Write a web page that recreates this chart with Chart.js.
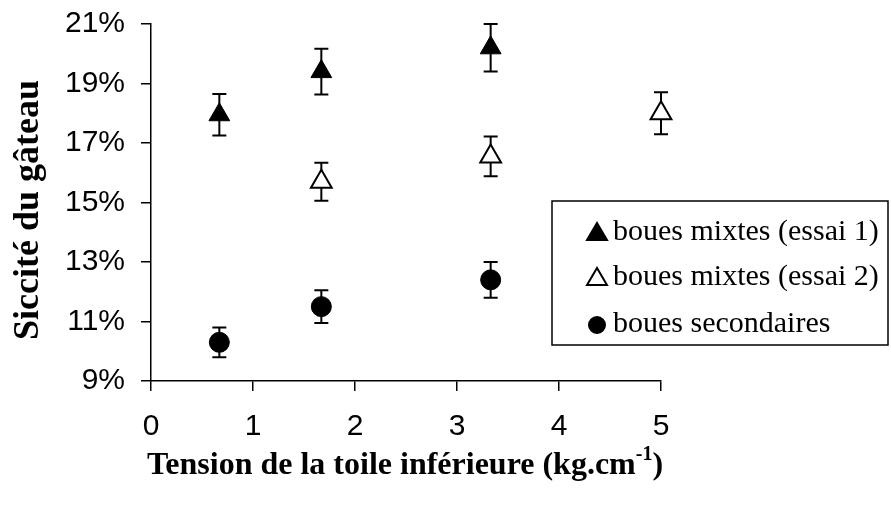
<!DOCTYPE html>
<html>
<head>
<meta charset="utf-8">
<script src="https://cdn.jsdelivr.net/npm/chart.js@4"></script>
<style>
  body { margin: 0; background: #fff; }
</style>
</head>
<body>
<canvas id="siccite" width="891" height="527"></canvas>
<script>
// tension (kg/cm) and cake dryness (%) with error bars
const tensionMixtes1 = [0.67, 1.67, 3.33];
const sicciteMixtes1 = [17.95, 19.4, 20.2];
const erreurMixtes1 = [0.7, 0.77, 0.8];

const tensionMixtes2 = [1.67, 3.33, 5.0];
const sicciteMixtes2 = [15.7, 16.55, 18.0];
const erreurMixtes2 = [0.64, 0.67, 0.71];

const tensionSecondaires = [0.67, 1.67, 3.33];
const sicciteSecondaires = [10.3, 11.5, 12.4];
const erreurSecondaires = [0.5, 0.55, 0.6];

const seriesLabels = ["boues mixtes (essai 1)", "boues mixtes (essai 2)", "boues secondaires"];
const yTicks = [9, 11, 13, 15, 17, 19, 21];
const xTicks = [0, 1, 2, 3, 4, 5];

const serif = "'Liberation Serif', 'Times New Roman', serif";
const sans = "'Liberation Sans', Arial, sans-serif";

function points(xs, ys, errs) {
  return xs.map((x, i) => ({ x: x, y: ys[i], err: errs[i] }));
}

// vertical error bars with caps, drawn under the markers
const errorBars = {
  id: "errorBars",
  beforeDatasetsDraw(chart) {
    const ctx = chart.ctx;
    const xs = chart.scales.x, ys = chart.scales.y;
    ctx.save();
    ctx.strokeStyle = "#000";
    ctx.lineWidth = 2;
    chart.data.datasets.forEach((ds) => {
      ds.data.forEach((p) => {
        const px = xs.getPixelForValue(p.x);
        const top = ys.getPixelForValue(p.y + p.err);
        const bot = ys.getPixelForValue(p.y - p.err);
        ctx.beginPath();
        ctx.moveTo(px, top); ctx.lineTo(px, bot);
        ctx.moveTo(px - 7, top); ctx.lineTo(px + 7, top);
        ctx.moveTo(px - 7, bot); ctx.lineTo(px + 7, bot);
        ctx.stroke();
      });
    });
    ctx.restore();
  }
};

// axis titles and boxed legend
const decorations = {
  id: "decorations",
  afterDraw(chart) {
    const ctx = chart.ctx;
    ctx.save();
    ctx.fillStyle = "#000";

    // x title with superscript
    const main = "Tension de la toile inférieure (kg.cm";
    ctx.font = "bold 32px " + serif;
    const w1 = ctx.measureText(main).width;
    const w3 = ctx.measureText(")").width;
    ctx.font = "bold 20px " + serif;
    const w2 = ctx.measureText("-1").width;
    let x = 405 - (w1 + w2 + w3) / 2;
    const base = 474;
    ctx.textBaseline = "alphabetic";
    ctx.textAlign = "left";
    ctx.font = "bold 32px " + serif;
    ctx.fillText(main, x, base);
    x += w1;
    ctx.font = "bold 20px " + serif;
    ctx.fillText("-1", x, base - 14);
    x += w2;
    ctx.font = "bold 32px " + serif;
    ctx.fillText(")", x, base);

    // y title
    ctx.translate(29, 210);
    ctx.rotate(-Math.PI / 2);
    ctx.textAlign = "center";
    ctx.textBaseline = "middle";
    ctx.font = "bold 36px " + serif;
    ctx.fillText("Siccité du gâteau", 0, 0);
    ctx.setTransform(1, 0, 0, 1, 0, 0);

    // legend box
    ctx.fillStyle = "#fff";
    ctx.fillRect(552, 201, 336, 144);
    ctx.strokeStyle = "#000";
    ctx.lineWidth = 1.5;
    ctx.strokeRect(552, 201, 336, 144);

    const rows = [232, 277, 324];
    chart.data.datasets.forEach((ds, i) => {
      const cy = rows[i];
      ctx.lineWidth = 2;
      ctx.strokeStyle = "#000";
      ctx.fillStyle = ds.backgroundColor;
      ctx.beginPath();
      if (ds.pointStyle === "triangle") {
        ctx.moveTo(597, cy - 9);
        ctx.lineTo(607, cy + 8);
        ctx.lineTo(587, cy + 8);
        ctx.closePath();
      } else {
        ctx.arc(597, cy + 1, 8, 0, Math.PI * 2);
      }
      ctx.fill();
      ctx.stroke();
      ctx.fillStyle = "#000";
      ctx.font = "30px " + serif;
      ctx.textAlign = "left";
      ctx.textBaseline = "middle";
      ctx.fillText(ds.label, 613, cy);
    });
    ctx.restore();
  }
};

new Chart(document.getElementById("siccite"), {
  type: "scatter",
  data: {
    datasets: [
      {
        label: seriesLabels[0],
        data: points(tensionMixtes1, sicciteMixtes1, erreurMixtes1),
        pointStyle: "triangle",
        radius: 12,
        backgroundColor: "#000",
        borderColor: "#000",
        borderWidth: 1,
        clip: false,
      },
      {
        label: seriesLabels[1],
        data: points(tensionMixtes2, sicciteMixtes2, erreurMixtes2),
        pointStyle: "triangle",
        radius: 12,
        backgroundColor: "#fff",
        borderColor: "#000",
        borderWidth: 2,
        clip: false,
      },
      {
        label: seriesLabels[2],
        data: points(tensionSecondaires, sicciteSecondaires, erreurSecondaires),
        pointStyle: "circle",
        radius: 10,
        backgroundColor: "#000",
        borderColor: "#000",
        borderWidth: 1,
        clip: false,
      },
    ],
  },
  options: {
    responsive: false,
    animation: false,
    layout: { padding: { top: 24, right: 230, left: 0, bottom: 0 } },
    plugins: {
      legend: { display: false },
      tooltip: { enabled: false },
    },
    elements: { point: { hoverRadius: 12 } },
    scales: {
      x: {
        type: "linear",
        min: 0,
        max: 5,
        afterBuildTicks: (s) => { s.ticks = xTicks.map((v) => ({ value: v })); },
        afterFit: (s) => { s.height = 146; s.paddingLeft = 0; s.paddingRight = 0; },
        border: { color: "#000", width: 1.5 },
        grid: { drawOnChartArea: false, color: "#000", lineWidth: 1.5, tickLength: 10 },
        ticks: { color: "#000", font: { family: sans, size: 30 }, padding: 18 },
      },
      y: {
        type: "linear",
        min: 9,
        max: 21,
        afterBuildTicks: (s) => { s.ticks = yTicks.map((v) => ({ value: v })); },
        afterFit: (s) => { s.width = 151; s.paddingTop = 0; s.paddingBottom = 0; },
        border: { color: "#000", width: 1.5 },
        grid: { drawOnChartArea: false, color: "#000", lineWidth: 1.5, tickLength: 10 },
        ticks: { color: "#000", font: { family: sans, size: 30 }, padding: 16, callback: (v) => v + "%" },
      },
    },
  },
  plugins: [errorBars, decorations],
});
</script>
</body>
</html>
